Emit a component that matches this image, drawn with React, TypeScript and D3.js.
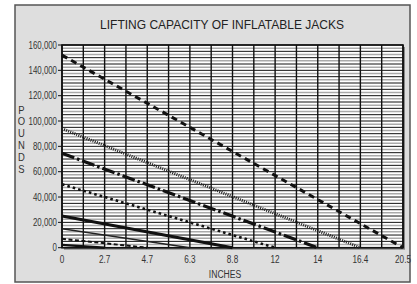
import React from "react";
import * as d3 from "d3";

const xLabels = ["0", "2.7", "4.7", "6.3", "8.8", "12", "14", "16.4", "20.5"];
const yTickValues = [0, 20000, 40000, 60000, 80000, 100000, 120000, 140000, 160000];
const capacities = [152000, 94000, 74500, 50000, 25000, 15000, 7000, 2200];
const maxHeights = ["20.5", "16.4", "14", "12", "8.8", "6.3", "4.7", "2.7"];
const title = "LIFTING CAPACITY OF INFLATABLE JACKS";
const yTitle = "POUNDS";
const xTitle = "INCHES";

const lineStyles = [
  { w: 3, dash: "6,4.5", color: "#111" },
  { w: 3, dash: "1,1.2", color: "#222" },
  { w: 3.2, dash: "13,3,2.5,3", color: "#111" },
  { w: 2.6, dash: "2.6,3", color: "#111" },
  { w: 3, dash: null, color: "#111" },
  { w: 1.4, dash: null, color: "#222" },
  { w: 2, dash: "4,2.5", color: "#111" },
  { w: 2.4, dash: null, color: "#111" },
];

const W = 417, H = 284;
const left = 62, right = 403, top = 45, bottom = 247.7;
const font = "'Liberation Sans', Arial, sans-serif";

function NText({ x, y, size, anchor, children, sx = 0.82, fill = "#333" }: any) {
  return (
    <g transform={`translate(${x},${y}) scale(${sx},1)`}>
      <text x={0} y={0} textAnchor={anchor} fontFamily={font} fontSize={size} fill={fill}>
        {children}
      </text>
    </g>
  );
}

export default function App() {
  const x = d3.scalePoint<string>().domain(xLabels).range([left, right]);
  const xi = d3.scaleLinear().domain([0, xLabels.length - 1]).range([left, right]);
  const y = d3.scaleLinear().domain([0, 160000]).range([bottom, top]);
  const line = d3
    .line<{ x: string; y: number }>()
    .x((d) => x(d.x) as number)
    .y((d) => y(d.y));

  const hLines = d3.range(0, 160001, 2500);
  const vLines = d3.range(0, xLabels.length - 0.9, 0.5);

  return (
    <svg
      width={W}
      height={H}
      style={{ position: "absolute", left: 0, top: 0, background: "#fff" }}
    >
      <rect x={15} y={5} width={395} height={277} fill="#dedede" stroke="#555" strokeWidth={1.5} />
      <text x={222} y={29} textAnchor="middle" fontFamily={font} fontSize={12} fill="#222">
        {title}
      </text>
      <rect x={left + 2} y={top + 2} width={right - left} height={bottom - top} fill="#888" />
      <rect x={left} y={top} width={right - left} height={bottom - top} fill="#fff" />
      {hLines.map((v) => (
        <line
          key={"h" + v}
          x1={left}
          x2={right}
          y1={y(v)}
          y2={y(v)}
          stroke={v % 5000 === 0 ? "#111" : "#aaa"}
          strokeWidth={v % 5000 === 0 ? 1 : 1.5}
        />
      ))}
      {vLines.map((v) => (
        <line key={"v" + v} x1={xi(v)} x2={xi(v)} y1={top} y2={bottom} stroke="#111" strokeWidth={1.4} />
      ))}
      <rect x={left} y={top} width={right - left} height={bottom - top} fill="none" stroke="#111" strokeWidth={1.6} />
      {capacities.map((c, i) => (
        <path
          key={"s" + i}
          d={line([
            { x: xLabels[0], y: c },
            { x: maxHeights[i], y: 0 },
          ]) as string}
          fill="none"
          stroke={lineStyles[i].color}
          strokeWidth={lineStyles[i].w}
          strokeDasharray={lineStyles[i].dash ?? undefined}
        />
      ))}
      {yTickValues.map((v) => (
        <g key={"yt" + v}>
          <line x1={left - 4} x2={left} y1={y(v)} y2={y(v)} stroke="#111" strokeWidth={1} />
          <NText x={left - 5} y={y(v) + 3.6} size={10.5} anchor="end" sx={0.75}>
            {d3.format(",")(v)}
          </NText>
        </g>
      ))}
      {xLabels.map((l) => (
        <NText key={"xt" + l} x={x(l)} y={262.5} size={10.5} anchor="middle" sx={0.78}>
          {l}
        </NText>
      ))}
      <NText x={225} y={278} size={11} anchor="middle" sx={0.78}>
        {xTitle}
      </NText>
      {yTitle.split("").map((ch, i) => (
        <NText key={"yl" + i} x={21.5} y={113.5 + i * 11.8} size={10.5} anchor="middle" sx={0.9}>
          {ch}
        </NText>
      ))}
    </svg>
  );
}
